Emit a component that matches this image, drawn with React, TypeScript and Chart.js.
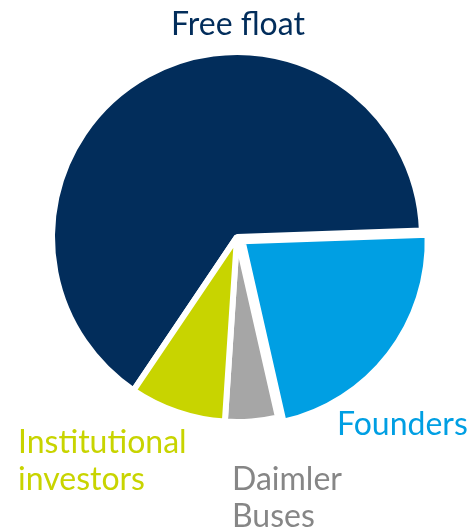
import React, { useEffect, useRef } from "react";
import { Chart, registerables } from "chart.js";

Chart.register(...registerables);

// ---- data ----
const categories = ["Free float", "Founders", "Daimler Buses", "Institutional investors"];
const shares = [65.0, 22.0, 4.6, 8.4];
const labelLines = [["Free float"], ["Founders"], ["Daimler", "Buses"], ["Institutional", "investors"]];

// ---- styles ----
const sliceColors = ["#022D5B", "#009FE3", "#A6A6A6", "#C8D400"];
const textColors = ["#022D5B", "#009FE3", "#868686", "#C8D400"];
const sliceOffsets = [0, 28, 0, 0];
// label anchor: [x, baseline y of first line, align]
const labelAnchors: [number, number, CanvasTextAlign][] = [
  [238, 35, "center"],
  [337, 435, "left"],
  [232, 490, "left"],
  [18, 453, "left"],
];
const lineHeight = 37;
const labelFont = "32px Lato";

const outsideLabels = {
  id: "outsideLabels",
  afterDraw(chart: any) {
    const ctx = chart.ctx as CanvasRenderingContext2D;
    ctx.save();
    ctx.font = labelFont;
    ctx.textBaseline = "alphabetic";
    labelLines.forEach((lines, i) => {
      const [x, y, align] = labelAnchors[i];
      ctx.fillStyle = textColors[i];
      ctx.textAlign = align;
      lines.forEach((t, j) => ctx.fillText(t, x, y + j * lineHeight));
    });
    ctx.restore();
  },
};

export default function App() {
  const ref = useRef<HTMLCanvasElement | null>(null);
  useEffect(() => {
    if (!ref.current) return;
    const chart = new Chart(ref.current, {
      type: "pie",
      data: {
        labels: categories,
        datasets: [
          {
            data: shares,
            backgroundColor: sliceColors,
            borderColor: "#ffffff",
            borderWidth: 6,
            offset: sliceOffsets,
          },
        ],
      },
      options: {
        responsive: false,
        animation: false,
        rotation: 214,
        radius: 185,
        layout: { padding: { left: 4, right: 0, top: 0, bottom: 57 } },
        plugins: { legend: { display: false }, tooltip: { enabled: false } },
      },
      plugins: [outsideLabels],
    });
    return () => chart.destroy();
  }, []);
  return (
    <div style={{ position: "absolute", left: 0, top: 0, width: 470, height: 531, background: "#fff" }}>
      <canvas ref={ref} width={470} height={531} />
    </div>
  );
}
